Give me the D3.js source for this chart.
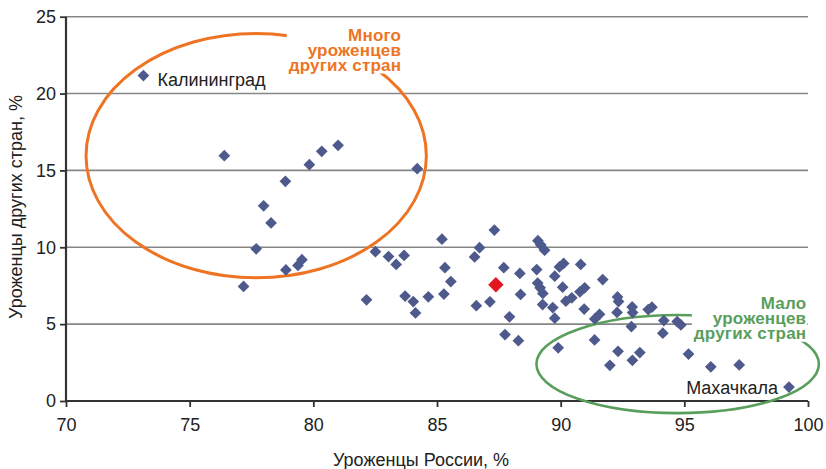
<!DOCTYPE html>
<html><head><meta charset="utf-8">
<script src="https://cdn.jsdelivr.net/npm/d3@7"></script>
<style>
html,body{margin:0;padding:0;background:#fff;}
svg{display:block;font-family:"Liberation Sans",Arial,sans-serif;}
</style></head>
<body><svg id="chart" width="826" height="469"></svg>
<script>
// Data: [share born in Russia %, share born in other countries %]
const cityX = [73.13,76.40,77.99,78.29,78.87,79.84,80.34,81.00,84.20,77.69,77.18,78.89,79.38,79.54,
  82.15,82.51,83.04,83.35,83.67,83.71,84.04,84.13,84.65,85.20,85.32,85.56,85.28,86.72,86.52,87.32,
  86.59,87.14,87.70,88.35,89.03,89.76,89.95,90.12,90.81,91.70,89.08,89.19,89.35,89.07,89.17,89.28,
  90.08,88.38,89.27,89.68,90.21,90.45,90.78,90.97,90.95,89.76,87.93,87.75,88.29,89.90,91.38,91.57,
  91.37,92.30,92.34,92.28,92.89,92.91,92.86,93.54,93.69,94.17,94.13,94.71,94.86,92.32,91.99,92.90,
  93.20,95.17,96.07,97.22,99.23];
const cityY = [21.17,15.96,12.70,11.58,14.29,15.37,16.24,16.63,15.11,9.90,7.45,8.53,8.82,9.19,
  6.58,9.71,9.40,8.88,9.47,6.83,6.47,5.73,6.78,10.53,8.67,7.77,6.96,9.97,9.37,11.12,
  6.20,6.45,8.67,8.30,8.55,8.12,8.72,8.95,8.88,7.90,10.43,10.16,9.81,7.67,7.36,7.00,
  7.40,6.93,6.27,6.08,6.49,6.71,7.10,7.36,5.98,5.39,5.48,4.32,3.92,3.46,5.34,5.64,
  3.97,6.77,6.47,5.76,6.12,5.75,4.84,5.95,6.10,5.23,4.41,5.17,4.95,3.23,2.32,2.65,
  3.15,3.05,2.22,2.35,0.91];
const russiaAvg = [87.38, 7.56];
const xTicks = [70,75,80,85,90,95,100];
const yTicks = [0,5,10,15,20,25];
const cityLabels = [{name:"Калининград", i:0}, {name:"Махачкала", i:82}];
// annotation groups: centre (x,y) and radii in data units
const groupNames = ["Много уроженцев других стран", "Мало уроженцев других стран"];
const groupLines = [["Много","уроженцев","других стран"],["Мало","уроженцев","других стран"]];
const groupEllipse = [[77.69,15.96,6.88,7.95],[94.73,2.40,5.71,3.19]];
const groupLabelPos = [[83.55,23.45],[99.93,6.0]];
const xTitle = "Уроженцы России, %";
const yTitle = "Уроженцы других стран, %";

const svg = d3.select("#chart");
const x = d3.scaleLinear().domain([70,100]).range([66,808]);
const y = d3.scaleLinear().domain([0,25]).range([401,16.7]);

// gridlines
svg.append("g").selectAll("line").data(yTicks.filter(d=>d>0)).join("line")
  .attr("x1",x(70)).attr("x2",x(100)).attr("y1",d=>y(d)).attr("y2",d=>y(d))
  .attr("stroke","#868686").attr("stroke-width",1.6);

// axes
const xAxis = svg.append("g").attr("transform",`translate(0,${y(0)})`)
  .call(d3.axisBottom(x).tickValues(xTicks).tickSize(6).tickPadding(11));
const yAxis = svg.append("g").attr("transform",`translate(${x(70)},0)`)
  .call(d3.axisLeft(y).tickValues(yTicks).tickSize(6).tickPadding(4));
[xAxis,yAxis].forEach(a=>{
  a.select(".domain").attr("stroke","#333").attr("stroke-width",2.2);
  a.selectAll(".tick line").attr("stroke","#333").attr("stroke-width",1.8);
  a.selectAll(".tick text").attr("fill","#222").attr("font-size",18)
    .attr("font-family","'Liberation Sans',Arial,sans-serif");
});
yAxis.select(".domain").attr("d",`M0,${y(25)}V${y(0)}`);
xAxis.select(".domain").attr("d",`M0,0H${x(100)-x(70)}`).attr("transform",`translate(${x(70)},0)`);

// ellipses
const ellColors = ["#ee7424","#5a9e5c"];
const ellW = [3,2.6];
svg.append("g").selectAll("ellipse").data(groupEllipse).join("ellipse")
  .attr("cx",d=>x(d[0])).attr("cy",d=>y(d[1]))
  .attr("rx",d=>x(d[0]+d[2])-x(d[0])).attr("ry",d=>y(d[1])-y(d[1]+d[3]))
  .attr("fill","none").attr("stroke",(d,i)=>ellColors[i]).attr("stroke-width",(d,i)=>ellW[i]);

// group labels with white background
groupLines.forEach((lines,gi)=>{
  const g = svg.append("g").attr("aria-label",groupNames[gi]);
  const px = x(groupLabelPos[gi][0]), py = y(groupLabelPos[gi][1]);
  const t = g.append("text").attr("text-anchor","end").attr("font-weight","bold")
    .attr("font-size",17).attr("fill",ellColors[gi]).attr("letter-spacing",0.2);
  lines.forEach((l,li)=>t.append("tspan").attr("x",px).attr("y",py+li*15).text(l));
  const bb = t.node().getBBox();
  g.insert("rect","text").attr("x",bb.x-2).attr("y",bb.y+2).attr("width",bb.width+3).attr("height",bb.height-3).attr("fill","#fff");
});

// points
const diamond = d3.symbol().type(d3.symbolDiamond2);
svg.append("g").selectAll("path").data(cityX.map((v,i)=>[v,cityY[i]])).join("path")
  .attr("transform",d=>`translate(${x(d[0])},${y(d[1])})`)
  .attr("d",diamond.size(88)()).attr("fill","#4f5a8c");
svg.append("path").attr("transform",`translate(${x(russiaAvg[0])},${y(russiaAvg[1])})`)
  .attr("d",d3.symbol().type(d3.symbolDiamond2).size(150)()).attr("fill","#e3161f");

// city labels
svg.append("text").attr("x",x(cityX[cityLabels[0].i])+14).attr("y",y(cityY[cityLabels[0].i])+10)
  .attr("font-size",18).attr("fill","#222").text(cityLabels[0].name);
svg.append("text").attr("x",x(cityX[cityLabels[1].i])-11).attr("y",y(cityY[cityLabels[1].i])+7)
  .attr("text-anchor","end").attr("font-size",18).attr("fill","#222").text(cityLabels[1].name);

// axis titles
svg.append("text").attr("x",421).attr("y",466).attr("text-anchor","middle")
  .attr("font-size",18).attr("fill","#222").text(xTitle);
svg.append("text").attr("transform","translate(22,207) rotate(-90)").attr("text-anchor","middle")
  .attr("font-size",18).attr("fill","#222").text(yTitle);
</script></body></html>
